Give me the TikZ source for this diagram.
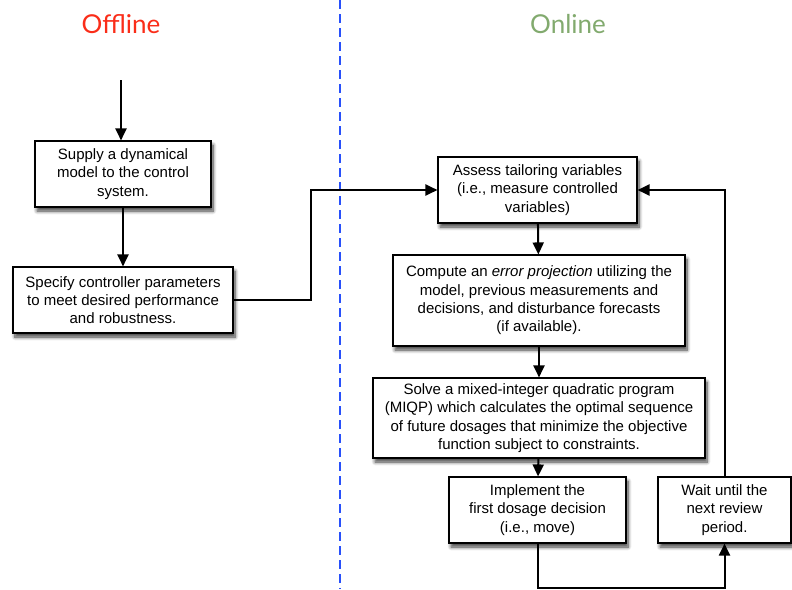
\documentclass[tikz,border=0pt]{standalone}
\usepackage{fontspec}
\setmainfont{Liberation Sans}
\newfontfamily\titlefont{Lato}
\usetikzlibrary{arrows.meta,shadows.blur}
\definecolor{offred}{RGB}{250,45,25}
\definecolor{ongreen}{RGB}{130,170,110}
\definecolor{divblue}{RGB}{40,80,250}
\tikzset{
  stepbox/.style={draw=black, line width=1.1pt, fill=white, align=center,
    inner sep=2pt, font=\fontsize{15}{18.3}\selectfont,
    blur shadow={shadow xshift=2pt, shadow yshift=-4pt, shadow blur steps=8,
      shadow blur radius=3.5pt, shadow opacity=75}},
  flow/.style={line width=2pt, -{Triangle[length=12pt,width=11pt]}},
  heading/.style={font=\titlefont\fontsize{26}{30}\selectfont}
}
\begin{document}
\begin{tikzpicture}[x=1pt,y=-1pt]
\useasboundingbox (0,0) rectangle (792,589);

% divider between offline and online parts
\draw[divblue, line width=2pt, dash pattern=on 9pt off 5pt] (340,0) -- (340,589);

% headings
\node[heading, text=offred] (offline) at (121,24) {Offline};
\node[heading, text=ongreen] (online) at (568,24) {Online};

% offline steps
\node[stepbox, minimum width=176pt, minimum height=66pt] (supply) at (123,174)
  {Supply a dynamical\\model to the control\\system.};
\node[stepbox, minimum width=220pt, minimum height=66pt] (specify) at (123,300)
  {Specify controller parameters\\to meet desired performance\\and robustness.};

% online steps
\node[stepbox, minimum width=199pt, minimum height=66pt] (assess) at (537.5,190)
  {Assess tailoring variables\\(i.e., measure controlled\\variables)};
\node[stepbox, minimum width=292pt, minimum height=91pt] (compute) at (539,300.5)
  {Compute an \textit{error projection} utilizing the\\model, previous measurements and\\decisions, and disturbance forecasts\\(if available).};
\node[stepbox, minimum width=332pt, minimum height=80pt] (solve) at (539,418)
  {Solve a mixed-integer quadratic program\\(MIQP) which calculates the optimal sequence\\of future dosages that minimize the objective\\function subject to constraints.};
\node[stepbox, minimum width=177pt, minimum height=66pt] (implement) at (537.5,510)
  {Implement the\\first dosage decision\\(i.e., move)};
\node[stepbox, minimum width=133pt, minimum height=66pt] (wait) at (724.5,510)
  {Wait until the\\next review\\period.};

% connectors
\coordinate (entry) at (121,80);
\draw[flow] (entry) -- (entry |- supply.north);
\draw[flow] (supply) -- (specify);
\draw[flow] (specify.east) -- ++(77,0) |- (assess.west);
\draw[flow] (assess) -- (compute);
\draw[flow] (compute) -- (solve);
\draw[flow] (solve) -- (implement);
\draw[flow] (implement.south) -- ++(0,44) -| (wait.south);
\draw[flow] (wait.north) |- (assess.east);
\end{tikzpicture}
\end{document}
